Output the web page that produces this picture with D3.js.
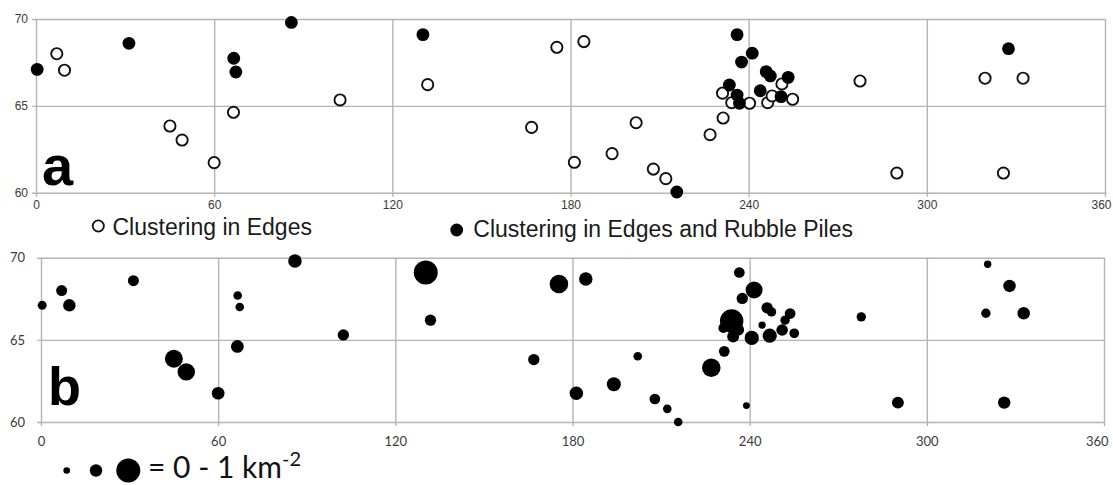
<!DOCTYPE html>
<html>
  <head>
    <meta charset="utf-8">
    <title></title>
    <style>
      body { margin: 0; background: #fff; }
    </style>
  </head>
  <body>
    <script src="https://cdn.jsdelivr.net/npm/d3@7"></script>
    <script>
      // x ticks (longitude) and y ticks (latitude)
      var lonTicks = [0, 60, 120, 180, 240, 300, 360];
      var latTicks = [60, 65, 70];

      // panel a, open circles: clustering in edges
      var edgesLon = [7.0, 9.6, 45.1, 49.2, 60.0, 66.5, 102.4, 131.9, 166.9, 175.4, 184.5, 181.3, 194.0, 202.1, 207.9, 212.1,
        227.0, 231.4, 231.2, 234.3, 240.3, 246.4, 247.9, 251.2, 254.8, 277.5, 289.9, 319.6, 325.8, 332.4];
      var edgesLat = [68.0, 67.05, 63.84, 63.03, 61.73, 64.63, 65.34, 66.22, 63.76, 68.37, 68.7, 61.75, 62.25, 64.03, 61.36, 60.81,
        63.34, 64.3, 65.73, 65.18, 65.15, 65.18, 65.57, 66.26, 65.38, 66.43, 61.13, 66.59, 61.13, 66.59];

      // panel a, filled circles: clustering in edges and rubble piles
      var rubbleLon = [0.4, 31.3, 66.6, 67.3, 86.0, 130.3, 215.8, 236.1, 241.2, 237.6, 245.9, 247.3, 253.3, 233.5, 243.9, 236.1, 250.9, 236.9, 327.5];
      var rubbleLat = [67.1, 68.6, 67.74, 66.95, 69.8, 69.1, 60.04, 69.1, 68.03, 67.52, 66.97, 66.72, 66.64, 66.2, 65.87, 65.62, 65.53, 65.15, 68.29];

      // panel b: density (km^-2)
      var densLon = [0.4, 7.0, 9.6, 31.3, 45.0, 49.2, 60.0, 66.6, 67.3, 66.5, 86.0, 102.4, 130.3, 131.9, 166.9, 175.4, 184.5,
        181.3, 194.0, 202.1, 207.9, 212.1, 215.8, 227.0, 231.4, 238.9, 236.5, 241.5, 237.5, 245.9, 247.4, 253.7, 233.9, 244.2,
        252.0, 251.0, 246.8, 240.7, 255.1, 231.1, 234.4, 236.1, 277.8, 290.2, 320.6, 328.0, 320.0, 332.8, 326.2];
      var densLat = [67.1, 68.0, 67.1, 68.6, 63.85, 63.05, 61.75, 67.7, 67.0, 64.6, 69.8, 65.3, 69.1, 66.2, 63.8, 68.4, 68.7,
        61.75, 62.3, 64.0, 61.4, 60.8, 60.0, 63.3, 64.3, 61.0, 69.1, 68.03, 67.52, 66.95, 66.7, 66.6, 66.15, 65.9,
        66.2, 65.6, 65.25, 65.12, 65.4, 65.72, 65.2, 65.62, 66.4, 61.18, 69.6, 68.28, 66.62, 66.62, 61.18];
      var density = [0.12, 0.18, 0.23, 0.18, 0.48, 0.45, 0.24, 0.11, 0.11, 0.24, 0.27, 0.19, 0.85, 0.19, 0.19, 0.51, 0.27,
        0.27, 0.29, 0.11, 0.17, 0.11, 0.11, 0.51, 0.17, 0.07, 0.17, 0.43, 0.19, 0.19, 0.13, 0.17, 0.81, 0.08,
        0.13, 0.2, 0.3, 0.3, 0.14, 0.15, 0.21, 0.21, 0.13, 0.21, 0.08, 0.23, 0.13, 0.23, 0.23];

      // legend of panel b
      var legendDensity = [0.065, 0.23, 0.85];

      var width = 1113, height = 485;
      var svg = d3.select('body').append('svg')
        .attr('width', width)
        .attr('height', height);

      var gridColor = '#b4b4b4';

      // draws the box, gridlines and tick labels of one panel
      function frame(x, y, opt) {
        var g = svg.append('g');
        var w = x.range()[1] - x.range()[0];
        var h = y.range()[0] - y.range()[1];

        var ay = g.append('g')
          .attr('transform', 'translate(' + x.range()[0] + ',0)')
          .call(d3.axisLeft(y).tickValues(latTicks).tickSizeInner(-w).tickSizeOuter(0).tickPadding(opt.padY));
        var ax = g.append('g')
          .attr('transform', 'translate(0,' + y.range()[0] + ')')
          .call(d3.axisBottom(x).tickValues(lonTicks).tickSizeInner(-h).tickSizeOuter(0).tickPadding(opt.padX));

        [ax, ay].forEach(function(a) {
          a.select('.domain').remove();
          a.selectAll('line').attr('stroke', gridColor).attr('stroke-width', 1.4);
          a.selectAll('text')
            .attr('font-family', opt.font)
            .attr('font-size', opt.size)
            .attr('fill', '#3a3a3a');
        });
        // gridlines stick out a little past the frame, like tick marks
        ay.selectAll('line').attr('x1', -4);
        ax.selectAll('line').attr('y1', 4);
        ax.selectAll('.tick text')
          .filter(function(d) { return d === 360; })
          .attr('text-anchor', 'end')
          .attr('dx', opt.endShift);

        g.append('text')
          .attr('x', x.range()[0] + opt.letterDx)
          .attr('y', y.range()[0] + opt.letterDy)
          .attr('font-family', 'Liberation Sans, Arial, sans-serif')
          .attr('font-weight', 'bold')
          .attr('font-size', opt.letterSize)
          .attr('fill', '#000')
          .text(opt.letter);
        return g;
      }

      // ---------- panel a ----------
      var xa = d3.scaleLinear().domain([0, 360]).range([36, 1105]);
      var ya = d3.scaleLinear().domain([60, 70]).range([192.7, 19]);
      var ga = frame(xa, ya, {
        padY: 8, padX: 8, font: 'Liberation Sans, Arial, sans-serif', size: 12,
        endShift: 6, letter: 'a', letterDx: 6, letterDy: -8, letterSize: 56
      });

      ga.selectAll('.edge')
        .data(d3.range(edgesLon.length))
        .enter().append('circle')
        .attr('class', 'edge')
        .attr('cx', function(i) { return xa(edgesLon[i]); })
        .attr('cy', function(i) { return ya(edgesLat[i]); })
        .attr('r', 5.6)
        .attr('fill', '#fff')
        .attr('stroke', '#111')
        .attr('stroke-width', 1.9);

      ga.selectAll('.rubble')
        .data(d3.range(rubbleLon.length))
        .enter().append('circle')
        .attr('class', 'rubble')
        .attr('cx', function(i) { return xa(rubbleLon[i]); })
        .attr('cy', function(i) { return ya(rubbleLat[i]); })
        .attr('r', 6.4)
        .attr('fill', '#000');

      // legend of panel a
      var lega = svg.append('g')
        .attr('font-family', 'Liberation Sans, Arial, sans-serif')
        .attr('font-size', 23)
        .attr('fill', '#1a1a1a');
      lega.append('circle').attr('cx', 98.3).attr('cy', 226).attr('r', 5.6)
        .attr('fill', '#fff').attr('stroke', '#111').attr('stroke-width', 1.8);
      lega.append('text').attr('x', 112.5).attr('y', 234.5).text('Clustering in Edges');
      lega.append('circle').attr('cx', 456.7).attr('cy', 230).attr('r', 6.4).attr('fill', '#000');
      lega.append('text').attr('x', 473.3).attr('y', 236.5).text('Clustering in Edges and Rubble Piles');

      // ---------- panel b ----------
      var xb = d3.scaleLinear().domain([0, 360]).range([41, 1104]);
      var yb = d3.scaleLinear().domain([60, 70]).range([422, 257.7]);
      var rb = d3.scaleSqrt().domain([0, 1]).range([0, 13]);
      var gb = frame(xb, yb, {
        padY: 16, padX: 15, font: 'Lato, Open Sans, sans-serif', size: 13,
        endShift: 4, letter: 'b', letterDx: 7, letterDy: -17, letterSize: 54
      });

      gb.selectAll('.dens')
        .data(d3.range(densLon.length))
        .enter().append('circle')
        .attr('class', 'dens')
        .attr('cx', function(i) { return xb(densLon[i]); })
        .attr('cy', function(i) { return yb(densLat[i]); })
        .attr('r', function(i) { return rb(density[i]); })
        .attr('fill', '#000');

      // legend of panel b
      var legx = [66.7, 96, 128.3];
      var legb = svg.append('g');
      legb.selectAll('circle')
        .data(legendDensity)
        .enter().append('circle')
        .attr('cx', function(d, i) { return legx[i]; })
        .attr('cy', 470.5)
        .attr('r', function(d) { return rb(d); })
        .attr('fill', '#000');
      var lt = legb.append('text')
        .attr('x', 148)
        .attr('y', 478)
        .attr('font-family', 'Lato, Open Sans, sans-serif')
        .attr('font-size', 30)
        .attr('fill', '#111');
      lt.append('tspan').text('= 0 - 1 km');
      lt.append('tspan').attr('font-size', 20).attr('dy', -12).text('-2');
    </script>
  </body>
</html>
